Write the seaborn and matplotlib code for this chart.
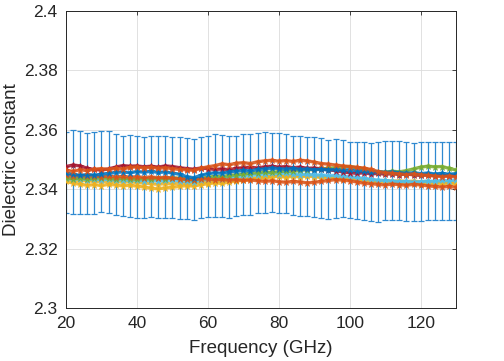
import numpy as np
import pandas as pd
import matplotlib
matplotlib.use("Agg")
import matplotlib.pyplot as plt
from matplotlib.ticker import FuncFormatter
import seaborn as sns

# Frequency grid (GHz) shared by every trace and the error bars
freq = np.arange(20, 131, 2)

# Envelope of the error bars (upper / lower cap)
err_upper = [2.3591, 2.3598, 2.3596, 2.3590, 2.3592, 2.3597, 2.3594, 2.3586, 2.3580, 2.3582,
             2.3578, 2.3576, 2.3579, 2.3578, 2.3580, 2.3575, 2.3574, 2.3572, 2.3570, 2.3576,
             2.3578, 2.3584, 2.3582, 2.3578, 2.3580, 2.3584, 2.3586, 2.3590, 2.3592, 2.3588,
             2.3590, 2.3584, 2.3580, 2.3578, 2.3577, 2.3575, 2.3572, 2.3566, 2.3568, 2.3566,
             2.3560, 2.3558, 2.3558, 2.3554, 2.3560, 2.3562, 2.3563, 2.3561, 2.3558, 2.3555,
             2.3557, 2.3560, 2.3558, 2.3558, 2.3558, 2.3558]
err_lower = [2.3318, 2.3316, 2.3316, 2.3315, 2.3317, 2.3322, 2.3318, 2.3312, 2.3308, 2.3305,
             2.3303, 2.3304, 2.3305, 2.3303, 2.3302, 2.3304, 2.3300, 2.3298, 2.3297, 2.3302,
             2.3305, 2.3306, 2.3305, 2.3303, 2.3308, 2.3312, 2.3314, 2.3318, 2.3320, 2.3322,
             2.3320, 2.3318, 2.3314, 2.3310, 2.3308, 2.3306, 2.3303, 2.3298, 2.3302, 2.3305,
             2.3302, 2.3298, 2.3296, 2.3292, 2.3289, 2.3295, 2.3296, 2.3295, 2.3293, 2.3292,
             2.3294, 2.3296, 2.3295, 2.3295, 2.3295, 2.3295]

# Individual measurement traces
yellow_b = [2.3434, 2.3430, 2.3427, 2.3429, 2.3425, 2.3427, 2.3424, 2.3426, 2.3423, 2.3425,
            2.3422, 2.3420, 2.3418, 2.3416, 2.3419, 2.3417, 2.3420, 2.3418, 2.3421, 2.3424,
            2.3422, 2.3426, 2.3428, 2.3431, 2.3429, 2.3433, 2.3436, 2.3438, 2.3441, 2.3443,
            2.3445, 2.3443, 2.3446, 2.3444, 2.3447, 2.3445, 2.3443, 2.3440, 2.3442, 2.3439,
            2.3437, 2.3435, 2.3432, 2.3430, 2.3427, 2.3429, 2.3426, 2.3428, 2.3425, 2.3427,
            2.3424, 2.3426, 2.3423, 2.3425, 2.3422, 2.3424]
yellow_a = [2.3426, 2.3420, 2.3416, 2.3413, 2.3415, 2.3412, 2.3416, 2.3414, 2.3411, 2.3413,
            2.3410, 2.3407, 2.3403, 2.3401, 2.3404, 2.3406, 2.3409, 2.3412, 2.3410, 2.3415,
            2.3418, 2.3421, 2.3419, 2.3424, 2.3427, 2.3430, 2.3433, 2.3436, 2.3438, 2.3441,
            2.3443, 2.3440, 2.3443, 2.3441, 2.3444, 2.3442, 2.3439, 2.3437, 2.3438, 2.3435,
            2.3436, 2.3433, 2.3430, 2.3428, 2.3425, 2.3426, 2.3423, 2.3421, 2.3419, 2.3421,
            2.3418, 2.3420, 2.3417, 2.3419, 2.3416, 2.3418]
light_blue = [2.3436, 2.3433, 2.3435, 2.3432, 2.3434, 2.3431, 2.3433, 2.3430, 2.3432, 2.3429,
              2.3431, 2.3428, 2.3430, 2.3427, 2.3429, 2.3430, 2.3428, 2.3426, 2.3425, 2.3430,
              2.3433, 2.3436, 2.3435, 2.3439, 2.3441, 2.3444, 2.3446, 2.3449, 2.3451, 2.3453,
              2.3452, 2.3454, 2.3451, 2.3449, 2.3450, 2.3447, 2.3448, 2.3445, 2.3446, 2.3443,
              2.3442, 2.3439, 2.3436, 2.3433, 2.3430, 2.3429, 2.3427, 2.3425, 2.3426, 2.3423,
              2.3425, 2.3427, 2.3426, 2.3429, 2.3428, 2.3431]
green = [2.3438, 2.3435, 2.3437, 2.3434, 2.3436, 2.3439, 2.3436, 2.3434, 2.3437, 2.3435,
         2.3433, 2.3436, 2.3434, 2.3437, 2.3435, 2.3438, 2.3436, 2.3433, 2.3431, 2.3436,
         2.3440, 2.3443, 2.3441, 2.3446, 2.3448, 2.3451, 2.3453, 2.3455, 2.3458, 2.3456,
         2.3459, 2.3461, 2.3460, 2.3463, 2.3465, 2.3466, 2.3468, 2.3470, 2.3472, 2.3474,
         2.3476, 2.3472, 2.3468, 2.3462, 2.3458, 2.3457, 2.3460, 2.3458, 2.3462, 2.3468,
         2.3474, 2.3477, 2.3475, 2.3476, 2.3470, 2.3464]
orange_b = [2.3447, 2.3444, 2.3446, 2.3443, 2.3445, 2.3442, 2.3444, 2.3441, 2.3443, 2.3440,
            2.3442, 2.3439, 2.3441, 2.3438, 2.3440, 2.3437, 2.3435, 2.3433, 2.3432, 2.3435,
            2.3434, 2.3431, 2.3433, 2.3430, 2.3432, 2.3429, 2.3431, 2.3428, 2.3426, 2.3428,
            2.3425, 2.3423, 2.3426, 2.3424, 2.3421, 2.3423, 2.3426, 2.3429, 2.3432, 2.3430,
            2.3428, 2.3424, 2.3420, 2.3418, 2.3416, 2.3414, 2.3417, 2.3415, 2.3413, 2.3416,
            2.3414, 2.3411, 2.3409, 2.3407, 2.3409, 2.3406]
dark_red = [2.3476, 2.3481, 2.3478, 2.3470, 2.3466, 2.3464, 2.3468, 2.3474, 2.3479, 2.3477,
            2.3478, 2.3475, 2.3477, 2.3474, 2.3478, 2.3476, 2.3472, 2.3469, 2.3467, 2.3471,
            2.3469, 2.3466, 2.3468, 2.3465, 2.3470, 2.3472, 2.3474, 2.3471, 2.3475, 2.3477,
            2.3474, 2.3476, 2.3472, 2.3474, 2.3470, 2.3471, 2.3468, 2.3465, 2.3462, 2.3458,
            2.3455, 2.3453, 2.3455, 2.3451, 2.3453, 2.3450, 2.3452, 2.3449, 2.3451, 2.3448,
            2.3446, 2.3448, 2.3445, 2.3447, 2.3444, 2.3446]
blue = [2.3453, 2.3450, 2.3446, 2.3449, 2.3447, 2.3450, 2.3453, 2.3456, 2.3458, 2.3455,
        2.3459, 2.3457, 2.3460, 2.3456, 2.3458, 2.3454, 2.3450, 2.3442, 2.3438, 2.3446,
        2.3452, 2.3455, 2.3453, 2.3458, 2.3460, 2.3463, 2.3461, 2.3466, 2.3468, 2.3471,
        2.3469, 2.3467, 2.3470, 2.3466, 2.3468, 2.3465, 2.3467, 2.3464, 2.3466, 2.3463,
        2.3465, 2.3462, 2.3460, 2.3457, 2.3459, 2.3456, 2.3458, 2.3455, 2.3453, 2.3455,
        2.3452, 2.3454, 2.3451, 2.3453, 2.3450, 2.3452]
orange_a = [2.3463, 2.3460, 2.3465, 2.3462, 2.3467, 2.3469, 2.3466, 2.3470, 2.3468, 2.3473,
            2.3475, 2.3471, 2.3474, 2.3470, 2.3472, 2.3469, 2.3466, 2.3465, 2.3463, 2.3470,
            2.3475, 2.3479, 2.3485, 2.3482, 2.3487, 2.3489, 2.3486, 2.3492, 2.3495, 2.3497,
            2.3494, 2.3496, 2.3493, 2.3497, 2.3495, 2.3491, 2.3486, 2.3484, 2.3481, 2.3478,
            2.3476, 2.3473, 2.3471, 2.3466, 2.3459, 2.3455, 2.3453, 2.3451, 2.3449, 2.3451,
            2.3448, 2.3446, 2.3444, 2.3442, 2.3444, 2.3441]

traces = {
    "yellow_b": yellow_b, "yellow_a": yellow_a, "light_blue": light_blue, "green": green,
    "orange_b": orange_b, "dark_red": dark_red, "blue": blue, "orange_a": orange_a,
}
palette = {
    "yellow_b": "#EDB120", "yellow_a": "#EDB120", "light_blue": "#4DBEEE", "green": "#77AC30",
    "orange_b": "#D95319", "dark_red": "#A2142F", "blue": "#0072BD", "orange_a": "#D95319",
}

df = pd.DataFrame([
    {"freq": f, "eps": v, "trace": name}
    for name, vals in traces.items()
    for f, v in zip(freq, vals)
])

sns.set_theme(style="whitegrid")
plt.rcParams["font.family"] = ["Liberation Sans", "DejaVu Sans"]

fig = plt.figure(figsize=(5.04, 3.61), dpi=100)
ax = fig.add_axes([0.131, 0.147, 0.774, 0.823])

# Error bars behind the traces
up = np.array(err_upper)
lo = np.array(err_lower)
ax.errorbar(freq, (up + lo) / 2, yerr=(up - lo) / 2, fmt="none",
            ecolor="#2f89d0", elinewidth=0.9, capsize=2.4, capthick=0.9, zorder=2)

sns.lineplot(data=df, x="freq", y="eps", hue="trace", palette=palette,
             hue_order=list(traces.keys()), marker="*", markersize=5,
             markeredgecolor=None, markeredgewidth=0.6, linewidth=2.4,
             alpha=0.85, legend=False, ax=ax, zorder=3)

ax.set_xlim(20, 130)
ax.set_ylim(2.3, 2.4)
ax.set_xticks([20, 40, 60, 80, 100, 120])
ax.set_yticks([2.3, 2.32, 2.34, 2.36, 2.38, 2.4])
ax.yaxis.set_major_formatter(FuncFormatter(lambda v, p: f"{v:g}"))
ax.set_xlabel("Frequency (GHz)", fontsize=13.5, color="#262626", labelpad=6)
ax.set_ylabel("Dielectric constant", fontsize=13.5, color="#262626", labelpad=3)
ax.tick_params(axis="both", labelsize=12.5, colors="#262626", direction="in",
               length=3, width=0.6, top=True, right=True, pad=6)
ax.grid(True, color="#dcdcdc", linewidth=0.6)
for spine in ax.spines.values():
    spine.set_color("#262626")
    spine.set_linewidth(0.7)
ax.set_facecolor("white")

plt.savefig("out.png", dpi=100)
plt.close(fig)
